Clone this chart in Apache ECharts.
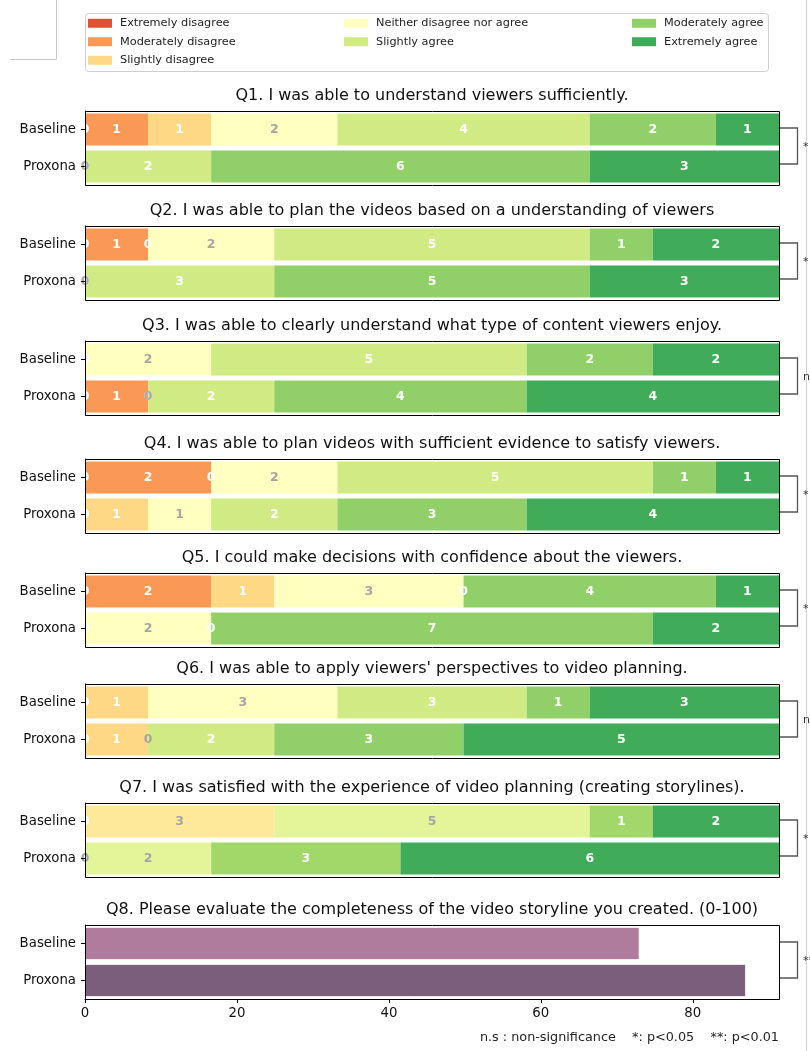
<!DOCTYPE html>
<html>
<head>
<meta charset="utf-8">
<script src="https://cdn.jsdelivr.net/npm/echarts@6/dist/echarts.min.js"></script>
<style>html,body{margin:0;padding:0;background:#fff}#c{width:810px;height:1051px}</style>
</head>
<body>
<div id="c"></div>
<script>
// ---------------- DATA ----------------
const likertCategories = ['Extremely disagree','Moderately disagree','Slightly disagree','Neither disagree nor agree','Slightly agree','Moderately agree','Extremely agree'];
const q7Categories = ['Q7 scale 1','Q7 scale 2','Q7 scale 3','Q7 scale 4','Q7 scale 5','Q7 scale 6'];
const groups = ['Baseline','Proxona'];
const questionTitles = [
  'Q1. I was able to understand viewers sufficiently.',
  'Q2. I was able to plan the videos based on a understanding of viewers',
  'Q3. I was able to clearly understand what type of content viewers enjoy.',
  'Q4. I was able to plan videos with sufficient evidence to satisfy viewers.',
  'Q5. I could make decisions with confidence about the viewers.',
  "Q6. I was able to apply viewers' perspectives to video planning.",
  'Q7. I was satisfied with the experience of video planning (creating storylines).',
  'Q8. Please evaluate the completeness of the video storyline you created. (0-100)'
];
const q1Baseline = [0,1,1,2,4,2,1];
const q1Proxona  = [0,0,0,0,2,6,3];
const q2Baseline = [0,1,0,2,5,1,2];
const q2Proxona  = [0,0,0,0,3,5,3];
const q3Baseline = [0,0,0,2,5,2,2];
const q3Proxona  = [0,1,0,0,2,4,4];
const q4Baseline = [0,2,0,2,5,1,1];
const q4Proxona  = [0,0,1,1,2,3,4];
const q5Baseline = [0,2,1,3,0,4,1];
const q5Proxona  = [0,0,0,2,0,7,2];
const q6Baseline = [0,0,1,3,3,1,3];
const q6Proxona  = [0,0,1,0,2,3,5];
const q7Baseline = [0,0,3,5,1,2];
const q7Proxona  = [0,0,0,2,3,6];
const q8Scores   = [73, 87];
const q8Ticks    = [0, 20, 40, 60, 80];
const significance = ['*','*','n.s','*','*','n.s','*','**'];
const footnote = 'n.s : non-significance    *: p<0.05    **: p<0.01';

// ---------------- STYLE / LAYOUT ----------------
const FONT = 'DejaVu Sans';
const palette7 = ['#e54f35','#fa9856','#fed884','#ffffbf','#d1eb84','#91d068','#40ab59'];
const labelColor7 = ['#fff','#fff','#fff','#a5a5a5','#fff','#fff','#fff'];
const palette6 = ['#e54f35','#fca85e','#fee99b','#e4f499','#a2d76a','#40ab59'];
const labelColor6 = ['#fff','#fff','#a5a5a5','#a5a5a5','#fff','#fff'];
const q8Colors = ['#b07c9e','#7b5e7b'];
const plotLeft = 85, plotWidth = 694, chartWidth = 810;
const gridTops = [111,226,341,459,573,684,803,925];
const gridHeight = 74;

const likertSets = [
  [q1Baseline,q1Proxona],[q2Baseline,q2Proxona],[q3Baseline,q3Proxona],
  [q4Baseline,q4Proxona],[q5Baseline,q5Proxona],[q6Baseline,q6Proxona],
  [q7Baseline,q7Proxona]
];

const grid = [], xAxis = [], yAxis = [], series = [], title = [];
gridTops.forEach((t, i) => {
  grid.push({left: plotLeft, right: chartWidth - plotLeft - plotWidth, top: t, height: gridHeight, show: false});
  title.push({
    text: questionTitles[i], left: plotLeft + plotWidth / 2, top: t - 24, textAlign: 'center', padding: 0,
    textStyle: {fontFamily: FONT, fontSize: 16, fontWeight: 'normal', color: '#111', lineHeight: 18}
  });
  yAxis.push({
    type: 'category', gridIndex: i, data: groups, inverse: true, z: 5,
    axisLine: {show: true, lineStyle: {color: '#000', width: 1}},
    axisTick: {show: true, length: 4, alignWithLabel: true, lineStyle: {color: '#000'}},
    axisLabel: {fontFamily: FONT, fontSize: 13.3, color: '#111', margin: 9}
  });
});

likertSets.forEach((pair, i) => {
  const isQ7 = i === 6;
  const cats = isQ7 ? q7Categories : likertCategories;
  const pal = isQ7 ? palette6 : palette7;
  const lc = isQ7 ? labelColor6 : labelColor7;
  const total = pair[0].reduce((a, b) => a + b, 0);
  xAxis.push({type: 'value', gridIndex: i, min: 0, max: total, show: false});
  cats.forEach((c, k) => {
    series.push({
      type: 'bar', name: c, xAxisIndex: i, yAxisIndex: i, stack: 'q' + i,
      data: [pair[0][k], pair[1][k]], barWidth: 32,
      itemStyle: {color: pal[k]},
      emphasis: {disabled: true},
      label: {show: true, position: 'inside', formatter: '{c}', color: lc[k],
              fontFamily: FONT, fontWeight: 'bold', fontSize: 12.5}
    });
  });
});

// Q8
const q8Max = Math.max(...q8Scores) * 1.05;
xAxis.push({
  type: 'value', gridIndex: 7, min: 0, max: q8Max,
  splitLine: {show: false},
  axisLine: {show: true, lineStyle: {color: '#000'}},
  axisTick: {show: true, length: 4, customValues: q8Ticks, lineStyle: {color: '#000'}},
  axisLabel: {customValues: q8Ticks, fontFamily: FONT, fontSize: 13.3, color: '#111', margin: 8}
});
series.push({
  type: 'bar', name: 'Q8', xAxisIndex: 7, yAxisIndex: 7, barWidth: 33,
  data: q8Scores.map((v, j) => ({value: v, itemStyle: {color: q8Colors[j]}})),
  itemStyle: {borderColor: 'rgba(255,255,255,0.7)', borderWidth: 1},
  emphasis: {disabled: true}
});

const legendBase = {
  orient: 'vertical', top: 16, padding: 0, itemWidth: 24, itemHeight: 9, itemGap: 4,
  icon: 'rect', selectedMode: false,
  textStyle: {fontFamily: FONT, fontSize: 11.3, color: '#222', lineHeight: 14.5, padding: [0,0,0,3]}
};
const legend = [
  Object.assign({}, legendBase, {left: 88, data: likertCategories.slice(0,3)}),
  Object.assign({}, legendBase, {left: 344, data: likertCategories.slice(3,5)}),
  Object.assign({}, legendBase, {left: 632, data: likertCategories.slice(5)})
];

const chart = echarts.init(document.getElementById('c'), null, {renderer: 'canvas'});
chart.setOption({
  animation: false, backgroundColor: '#fff',
  title, grid, xAxis, yAxis, series, legend
});

// ---------------- ANNOTATIONS ----------------
const graphic = [];
graphic.push({type: 'rect', z: -1, shape: {x: 85.5, y: 13.5, width: 683, height: 58, r: 3},
  style: {fill: '#fff', stroke: '#cfcfcf', lineWidth: 1}});
graphic.push({type: 'polyline', shape: {points: [[10,59.5],[56.5,59.5],[56.5,0]]}, style: {fill: null, stroke: '#c8c8c8', lineWidth: 1}});
graphic.push({type: 'line', shape: {x1: 806.5, y1: 0, x2: 806.5, y2: 1051}, style: {stroke: '#d0d0d0', lineWidth: 1}});

gridTops.forEach((t, i) => {
  graphic.push({type: 'rect', z: 50, shape: {x: plotLeft + 0.5, y: t + 0.5, width: plotWidth, height: gridHeight},
    style: {fill: null, stroke: '#000', lineWidth: 1}});
  const xr = chart.convertToPixel({xAxisIndex: i}, xAxis[i].max) + 1;
  const yb = chart.convertToPixel({yAxisIndex: i}, groups[0]) - 2;
  const yp = chart.convertToPixel({yAxisIndex: i}, groups[1]) - 3;
  graphic.push({type: 'polyline', z: 50, shape: {points: [[xr, yb + 0.5],[xr + 17.5, yb + 0.5],[xr + 17.5, yp + 0.5],[xr, yp + 0.5]]},
    style: {fill: null, stroke: '#555', lineWidth: 1.3}});
  graphic.push({type: 'text', z: 50, x: xr + 23, y: (yb + yp) / 2 + 2,
    style: {text: significance[i], fontFamily: FONT, fontSize: 11, fill: '#333', textVerticalAlign: 'middle'}});
});

graphic.push({type: 'text', x: plotLeft + plotWidth, y: 1038,
  style: {text: footnote, fontFamily: FONT, fontSize: 12.8, fill: '#222', textAlign: 'right', textVerticalAlign: 'middle'}});

chart.setOption({graphic});
</script>
</body>
</html>
